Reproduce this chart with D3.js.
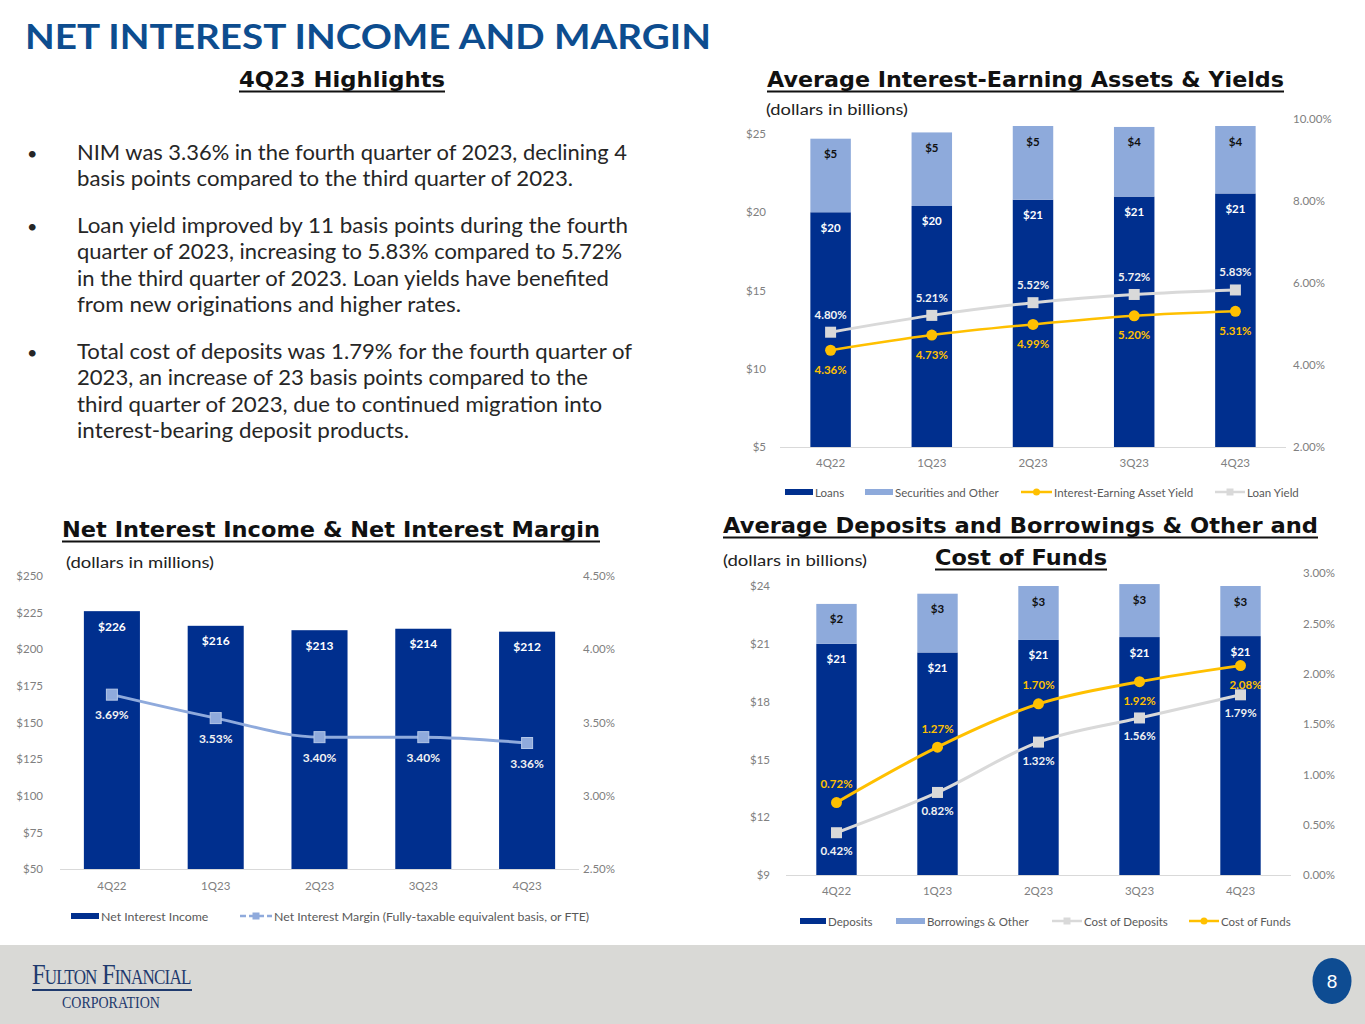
<!DOCTYPE html>
<html>
<head>
<meta charset="utf-8">
<script src="https://cdn.jsdelivr.net/npm/d3@7"></script>
<style>
  body { margin: 0; background: #fff; }
  svg { display: block; }
</style>
</head>
<body>
<div id="slide"></div>
<script>
const quarters = ["4Q22", "1Q23", "2Q23", "3Q23", "4Q23"];

// Average interest-earning assets ($B) & yields (%)
const loans = [20.0, 20.4, 20.8, 21.0, 21.2];
const securities = [4.7, 4.7, 4.9, 4.45, 4.4];
const assetYield = [4.36, 4.73, 4.99, 5.20, 5.31];
const loanYield = [4.80, 5.21, 5.52, 5.72, 5.83];

// Net interest income ($M) & NIM (%)
const netInterestIncome = [226, 216, 213, 214, 212];
const netInterestMargin = [3.69, 3.53, 3.40, 3.40, 3.36];

// Average deposits & borrowings ($B), cost of deposits / funds (%)
const deposits = [21.0, 20.55, 21.2, 21.35, 21.4];
const borrowings = [2.07, 3.05, 2.8, 2.75, 2.6];
const costOfDeposits = [0.42, 0.82, 1.32, 1.56, 1.79];
const costOfFunds = [0.72, 1.27, 1.70, 1.92, 2.08];

// tick values
const assetTicks = [5, 10, 15, 20, 25];
const yieldTicks = [2, 4, 6, 8, 10];
const niiTicks = [50, 75, 100, 125, 150, 175, 200, 225, 250];
const nimTicks = [2.5, 3.0, 3.5, 4.0, 4.5];
const depositTicks = [9, 12, 15, 18, 21, 24];
const costTicks = [0, 0.5, 1.0, 1.5, 2.0, 2.5, 3.0];

const bullets = [
  ["NIM was 3.36% in the fourth quarter of 2023, declining 4",
   "basis points compared to the third quarter of 2023."],
  ["Loan yield improved by 11 basis points during the fourth",
   "quarter of 2023, increasing to 5.83% compared to 5.72%",
   "in the third quarter of 2023. Loan yields have benefited",
   "from new originations and higher rates."],
  ["Total cost of deposits was 1.79% for the fourth quarter of",
   "2023, an increase of 23 basis points compared to the",
   "third quarter of 2023, due to continued migration into",
   "interest-bearing deposit products."]
];

const navy = "#002F8E", lightBlue = "#8EAADB", gold = "#FFC000", grey = "#D9D9D9", nimBlue = "#8FAADC";
const sans = "Lato, 'Open Sans', sans-serif";

const svg = d3.select("#slide").append("svg")
  .attr("width", 1365).attr("height", 1024)
  .attr("font-family", sans);

// ---------- slide furniture ----------
svg.append("text")
  .attr("x", 25).attr("y", 49)
  .attr("font-size", 35).attr("font-weight", 700).attr("fill", "#0D4D8F")
  .attr("textLength", 686).attr("lengthAdjust", "spacingAndGlyphs")
  .text("NET INTEREST INCOME AND MARGIN");

function heading(text, x, y, width) {
  svg.append("text")
    .attr("x", x).attr("y", y)
    .attr("font-family", "'DejaVu Sans', sans-serif").attr("font-weight", "bold")
    .attr("font-size", 21).attr("fill", "#111")
    .attr("textLength", width).attr("lengthAdjust", "spacingAndGlyphs")
    .text(text);
  svg.append("line")
    .attr("x1", x).attr("x2", x + width)
    .attr("y1", y + 4.5).attr("y2", y + 4.5)
    .attr("stroke", "#111").attr("stroke-width", 1.8);
}
heading("4Q23 Highlights", 239, 87, 206);
heading("Average Interest-Earning Assets & Yields", 767, 87, 517);
heading("Net Interest Income & Net Interest Margin", 62, 537, 538);
heading("Average Deposits and Borrowings & Other and", 723, 533, 595);
heading("Cost of Funds", 935, 565, 172);

function note(text, x, y, width) {
  svg.append("text").attr("x", x).attr("y", y)
    .attr("font-size", 16).attr("fill", "#222")
    .attr("textLength", width).attr("lengthAdjust", "spacingAndGlyphs")
    .text(text);
}
note("(dollars in billions)", 766, 115, 142);
note("(dollars in millions)", 66, 568, 148);
note("(dollars in billions)", 723, 566, 144);

// bullets
const lineWidths = [[550, 496], [551, 545, 532, 384], [555, 511, 525, 332]];
const bulletTops = [160, 233, 359];
bullets.forEach((lines, i) => {
  svg.append("text").attr("x", 27).attr("y", bulletTops[i])
    .attr("font-size", 18).attr("fill", "#262626").text("•");
  lines.forEach((ln, j) => {
    svg.append("text")
      .attr("x", 77).attr("y", bulletTops[i] + j * 26.3)
      .attr("font-size", 20.5).attr("fill", "#262626")
      .attr("textLength", lineWidths[i][j]).attr("lengthAdjust", "spacingAndGlyphs")
      .text(ln);
  });
});

// footer
svg.append("rect").attr("x", 0).attr("y", 945).attr("width", 1365).attr("height", 79).attr("fill", "#D9D9D6");
const serif = "'Liberation Serif', 'DejaVu Serif', serif";
const logo = svg.append("text")
  .attr("font-family", serif).attr("font-size", 30)
  .attr("font-variant", "small-caps").attr("letter-spacing", -1)
  .attr("fill", "#1F3A6E")
  .text("Fulton Financial");
const logoW = logo.node().getComputedTextLength();
logo.attr("transform", `translate(32,984) scale(${160 / logoW},1)`);
svg.append("rect").attr("x", 32).attr("y", 989).attr("width", 160).attr("height", 2).attr("fill", "#1F3A6E");
const corp = svg.append("text")
  .attr("font-family", serif).attr("font-size", 16).attr("fill", "#1F3A6E")
  .text("CORPORATION");
const corpW = corp.node().getComputedTextLength();
corp.attr("transform", `translate(62,1008) scale(${98 / corpW},1)`);
svg.append("ellipse").attr("cx", 1332).attr("cy", 981).attr("rx", 19.5).attr("ry", 23).attr("fill", "#0E4C92");
svg.append("text").attr("x", 1332).attr("y", 988)
  .attr("text-anchor", "middle").attr("font-family", "'Liberation Sans', Arial, sans-serif")
  .attr("font-size", 19).attr("fill", "#fff").text("8");

// ---------- combo chart builder ----------
let clipId = 0;
function comboChart(o) {
  const g = svg.append("g");

  const x = d3.scaleBand()
    .domain(quarters)
    .range([o.x0, o.x1])
    .paddingInner(o.pad)
    .paddingOuter(o.pad / 2);
  const y = d3.scaleLinear().domain(o.yDomain).range([o.base, o.yTop]);
  const y2 = d3.scaleLinear().domain(o.y2Domain).range([o.base, o.y2Top]);

  // axes (labels only)
  const tickStyle = a => a.call(s => s.select(".domain").remove())
    .selectAll("text").attr("font-family", sans).attr("font-size", 11.5).attr("fill", "#808080");
  g.append("g").attr("transform", `translate(${o.leftX},0)`)
    .call(d3.axisLeft(y).tickValues(o.yTicks).tickFormat(d => "$" + d).tickSize(0).tickPadding(0))
    .call(tickStyle);
  g.append("g").attr("transform", `translate(${o.rightX},0)`)
    .call(d3.axisRight(y2).tickValues(o.y2Ticks).tickFormat(d => d3.format(".2f")(d) + "%").tickSize(0).tickPadding(0))
    .call(tickStyle);
  g.append("g").attr("transform", `translate(0,${o.base})`)
    .call(d3.axisBottom(x).tickSize(0).tickPadding(o.xPad))
    .call(tickStyle);
  g.append("line")
    .attr("x1", o.x0).attr("x2", o.x1).attr("y1", o.base + 0.5).attr("y2", o.base + 0.5)
    .attr("stroke", "#D9D9D9").attr("stroke-width", 1.2);

  // stacked bars, clipped to the plot area
  const id = "clip" + (clipId++);
  g.append("clipPath").attr("id", id).append("rect")
    .attr("x", o.x0).attr("y", o.clipTop).attr("width", o.x1 - o.x0).attr("height", o.base - o.clipTop);

  const keys = o.bars.map(b => b.key);
  const table = quarters.map((q, i) => {
    const row = { q };
    o.bars.forEach(b => row[b.key] = b.values[i]);
    return row;
  });
  const layers = d3.stack().keys(keys)(table);

  layers.forEach((layer, li) => {
    const b = o.bars[li];
    const lg = g.append("g");
    lg.append("g").attr("clip-path", `url(#${id})`)
      .selectAll("rect").data(layer).join("rect")
      .attr("fill", b.color)
      .attr("x", d => x(d.data.q))
      .attr("width", x.bandwidth())
      .attr("y", d => y(d[1]))
      .attr("height", d => y(li === 0 ? o.yDomain[0] : d[0]) - y(d[1]));
    lg.selectAll("text").data(layer).join("text")
      .attr("x", d => x(d.data.q) + x.bandwidth() / 2)
      .attr("y", d => Math.max(y(d[1]), o.clipTop) + o.barLabelOffset)
      .attr("text-anchor", "middle").attr("dominant-baseline", "central")
      .attr("font-size", o.barLabelSize).attr("font-weight", 700)
      .attr("fill", b.labelColor)
      .text(d => "$" + Math.round(d[1] - d[0]));
  });

  // lines
  const cx = q => x(q) + x.bandwidth() / 2;
  o.lines.forEach(l => {
    const pts = quarters.map((q, i) => ({ q, v: l.values[i], i }));
    const line = d3.line().x(d => cx(d.q)).y(d => y2(d.v)).curve(d3.curveMonotoneX);
    g.append("path").datum(pts)
      .attr("fill", "none").attr("stroke", l.color).attr("stroke-width", l.width)
      .attr("d", line);
    const m = g.append("g").selectAll("g").data(pts).join("g")
      .attr("transform", d => `translate(${cx(d.q)},${y2(d.v)})`);
    if (l.marker === "circle") {
      m.append("circle").attr("r", 5.5).attr("fill", l.color);
    } else {
      m.append("rect").attr("x", -5.5).attr("y", -5.5).attr("width", 11).attr("height", 11)
        .attr("fill", l.markerFill || l.color).attr("stroke", l.markerStroke || "none").attr("stroke-width", 1);
    }
    g.append("g").selectAll("text").data(pts).join("text")
      .attr("x", d => cx(d.q) + (l.dx ? l.dx[d.i] : 0))
      .attr("y", d => y2(d.v) + (l.pos[d.i] === "above" ? -l.offset : l.offset))
      .attr("text-anchor", "middle").attr("dominant-baseline", "central")
      .attr("font-size", l.labelSize || 11.5).attr("font-weight", 700)
      .attr("fill", l.labelColor)
      .text(d => d3.format(".2f")(d.v) + "%");
  });

  // legend
  const lgd = g.append("g").attr("font-size", o.legendSize || 11.5).attr("fill", "#595959");
  o.legend.forEach(it => {
    if (it.type === "bar") {
      lgd.append("rect").attr("x", it.x).attr("y", o.legendY - 3).attr("width", it.w).attr("height", 6).attr("fill", it.color);
    } else {
      lgd.append("line").attr("x1", it.x).attr("x2", it.x + it.w)
        .attr("y1", o.legendY).attr("y2", o.legendY)
        .attr("stroke", it.color).attr("stroke-width", 2.5)
        .attr("stroke-dasharray", it.dash || null);
      if (it.marker === "circle") {
        lgd.append("circle").attr("cx", it.x + it.w / 2).attr("cy", o.legendY).attr("r", 3.5).attr("fill", it.color);
      } else {
        lgd.append("rect").attr("x", it.x + it.w / 2 - 3.5).attr("y", o.legendY - 3.5)
          .attr("width", 7).attr("height", 7).attr("fill", it.color);
      }
    }
    lgd.append("text").attr("x", it.x + it.w + 2).attr("y", o.legendY)
      .attr("dominant-baseline", "central").text(it.label);
  });
}

// Average Interest-Earning Assets & Yields
comboChart({
  x0: 780, x1: 1286, pad: 0.6, base: 447,
  yDomain: [5, 25], yTop: 134, y2Domain: [2, 10], y2Top: 119, clipTop: 126,
  yTicks: assetTicks, y2Ticks: yieldTicks,
  leftX: 766, rightX: 1293, xPad: 12,
  barLabelOffset: 15, barLabelSize: 11.5,
  bars: [
    { key: "loans", values: loans, color: navy, labelColor: "#fff" },
    { key: "sec", values: securities, color: lightBlue, labelColor: "#111" }
  ],
  lines: [
    { values: loanYield, color: grey, width: 3, marker: "square", labelColor: "#F2F2F2",
      pos: ["above", "above", "above", "above", "above"], offset: 18 },
    { values: assetYield, color: gold, width: 2.5, marker: "circle", labelColor: gold,
      pos: ["below", "below", "below", "below", "below"], offset: 19 }
  ],
  legendY: 492,
  legend: [
    { type: "bar", x: 785, w: 28, color: navy, label: "Loans" },
    { type: "bar", x: 865, w: 28, color: lightBlue, label: "Securities and Other" },
    { type: "line", x: 1021, w: 31, color: gold, marker: "circle", label: "Interest-Earning Asset Yield" },
    { type: "line", x: 1215, w: 30, color: grey, marker: "square", label: "Loan Yield" }
  ]
});

// Net Interest Income & Net Interest Margin
comboChart({
  x0: 60, x1: 579, pad: 0.46, base: 869,
  yDomain: [50, 250], yTop: 576, y2Domain: [2.5, 4.5], y2Top: 576, clipTop: 576,
  yTicks: niiTicks, y2Ticks: nimTicks,
  leftX: 43, rightX: 583, xPad: 13,
  barLabelOffset: 15, barLabelSize: 12,
  bars: [
    { key: "nii", values: netInterestIncome, color: navy, labelColor: "#fff" }
  ],
  lines: [
    { values: netInterestMargin, color: nimBlue, width: 3, marker: "square", markerStroke: "#B4C7E7",
      labelColor: "#F2F2F2", labelSize: 12,
      pos: ["below", "below", "below", "below", "below"], offset: 20 }
  ],
  legendY: 916, legendSize: 12.3,
  legend: [
    { type: "bar", x: 71, w: 28, color: navy, label: "Net Interest Income" },
    { type: "line", x: 240, w: 32, color: nimBlue, marker: "square", dash: "6 3", label: "Net Interest Margin (Fully-taxable equivalent basis, or FTE)" }
  ]
});

// Average Deposits and Borrowings & Other and Cost of Funds
comboChart({
  x0: 786, x1: 1291, pad: 0.6, base: 875,
  yDomain: [9, 24], yTop: 586, y2Domain: [0, 3], y2Top: 573, clipTop: 560,
  yTicks: depositTicks, y2Ticks: costTicks,
  leftX: 770, rightX: 1303, xPad: 12,
  barLabelOffset: 15, barLabelSize: 11.5,
  bars: [
    { key: "dep", values: deposits, color: navy, labelColor: "#fff" },
    { key: "bor", values: borrowings, color: lightBlue, labelColor: "#111" }
  ],
  lines: [
    { values: costOfDeposits, color: grey, width: 3, marker: "square", labelColor: "#F2F2F2",
      pos: ["below", "below", "below", "below", "below"], offset: 18 },
    { values: costOfFunds, color: gold, width: 3, marker: "circle", labelColor: gold,
      pos: ["above", "above", "above", "below", "below"], offset: 19, dx: [0, 0, 0, 0, 5] }
  ],
  legendY: 921,
  legend: [
    { type: "bar", x: 800, w: 26, color: navy, label: "Deposits" },
    { type: "bar", x: 896, w: 29, color: lightBlue, label: "Borrowings & Other" },
    { type: "line", x: 1052, w: 30, color: grey, marker: "square", label: "Cost of Deposits" },
    { type: "line", x: 1189, w: 30, color: gold, marker: "circle", label: "Cost of Funds" }
  ]
});
</script>
</body>
</html>
